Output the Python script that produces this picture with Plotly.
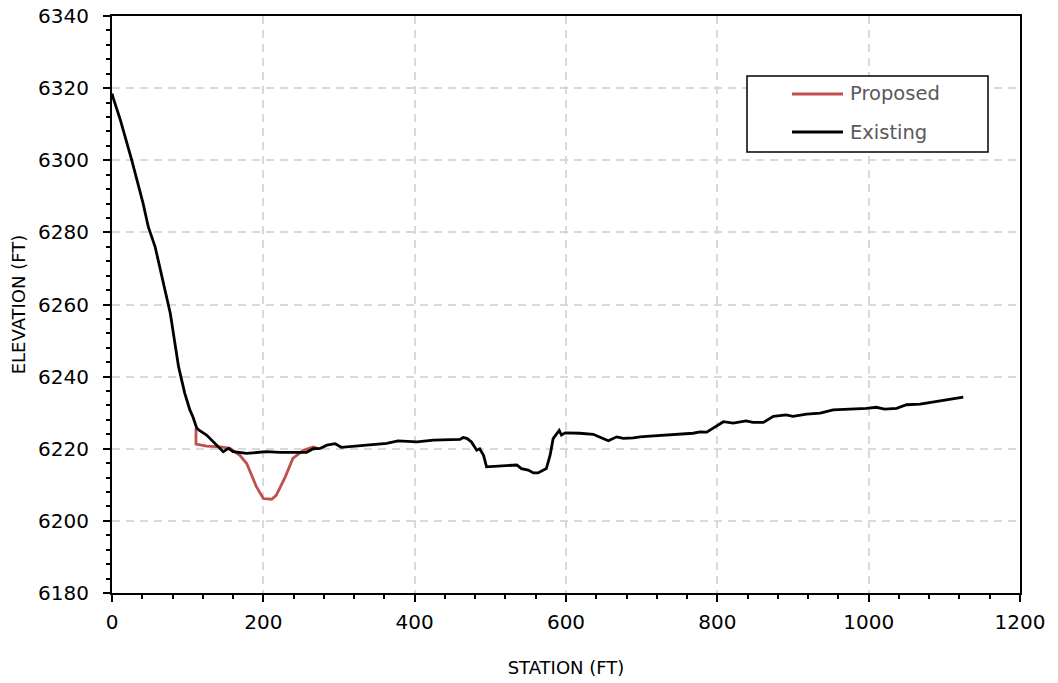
import plotly.graph_objects as go

# ---- data ----
existing_station = [0, 2, 11, 26, 41, 48, 57, 68, 77, 88, 96, 103, 107, 112, 116, 125, 136, 147, 154, 160,
                    178, 204, 222, 257, 266, 275, 284, 295, 303, 315, 328, 363, 378, 403, 425, 460, 464, 469,
                    475, 482, 486, 491, 495, 513, 535, 541, 550, 557, 563, 574, 579, 583, 591, 594, 599, 618,
                    636, 645, 656, 667, 676, 689, 698, 711, 733, 755, 768, 777, 786, 808, 821, 838, 847, 861,
                    874, 891, 900, 918, 936, 953, 980, 997, 1010, 1021, 1037, 1050, 1068, 1085, 1103, 1125]
existing_elev = [6318.5, 6317, 6311.2, 6300.1, 6288.1, 6281.5, 6276, 6266, 6257.6, 6242.7, 6235.5, 6230.7,
                 6228.8, 6225.7, 6225, 6223.8, 6221.5, 6219.2, 6220.1, 6219.2, 6218.7, 6219.2, 6219, 6219,
                 6220, 6220.1, 6221, 6221.4, 6220.4, 6220.6, 6220.8, 6221.5, 6222.2, 6221.9, 6222.4, 6222.6,
                 6223.1, 6222.9, 6221.9, 6219.6, 6220, 6218.2, 6215, 6215.2, 6215.5, 6214.5, 6214.1, 6213.3,
                 6213.3, 6214.5, 6218.2, 6222.8, 6225.1, 6223.8, 6224.4, 6224.3, 6224, 6223.2, 6222.2, 6223.3,
                 6222.9, 6223, 6223.3, 6223.5, 6223.8, 6224.3, 6224.3, 6224.7, 6224.6, 6227.5, 6227.1, 6227.7,
                 6227.3, 6227.3, 6229, 6229.4, 6229, 6229.6, 6229.9, 6230.8, 6231, 6231.2, 6231.5, 6231,
                 6231.2, 6232.2, 6232.4, 6233, 6233.7, 6234.3]

proposed_station = [111, 111, 125, 143, 156, 169, 178, 191, 200, 211, 217, 229, 239, 253, 266, 273]
proposed_elev = [6225.6, 6221.3, 6220.7, 6220.5, 6220.1, 6218.2, 6215.9, 6209.4, 6206.2, 6206, 6207.1,
                 6212.2, 6217.3, 6219.6, 6220.5, 6220]

series_names = ["Proposed", "Existing"]
x_ticks = [0, 200, 400, 600, 800, 1000, 1200]
y_ticks = [6180, 6200, 6220, 6240, 6260, 6280, 6300, 6320, 6340]

RED = "#C0504D"
FONT = "DejaVu Sans"

fig = go.Figure()
fig.add_trace(go.Scatter(x=proposed_station, y=proposed_elev, mode="lines", name=series_names[0],
                         line=dict(color=RED, width=2.8), showlegend=False))
fig.add_trace(go.Scatter(x=existing_station, y=existing_elev, mode="lines", name=series_names[1],
                         line=dict(color="black", width=2.8), showlegend=False))

# plot area in pixels: x 112..1020, y 16..593
L, R, T, B = 112, 1020, 16, 593
W, H = 1058, 683


def px(xp):
    return (xp - L) / (R - L)


def py(yp):
    return (B - yp) / (B - T)


# manual legend box
shapes = [dict(type="rect", xref="paper", yref="paper", x0=px(747), x1=px(988), y0=py(152), y1=py(76),
               line=dict(color="black", width=1.5), fillcolor="white", layer="above")]
annotations = []
for name, color, ypix in [(series_names[0], RED, 94), (series_names[1], "black", 132)]:
    shapes.append(dict(type="line", xref="paper", yref="paper", x0=px(792), x1=px(843), y0=py(ypix),
                       y1=py(ypix), line=dict(color=color, width=2.8), layer="above"))
    annotations.append(dict(xref="paper", yref="paper", x=px(848), y=py(ypix), text=name, showarrow=False,
                            xanchor="left", yanchor="middle", font=dict(family=FONT, size=19.5, color="#595959")))

axis_common = dict(
    showline=True, linecolor="black", linewidth=2, mirror=True,
    ticks="outside", ticklen=7, tickwidth=2, tickcolor="black",
    showgrid=True, gridcolor="#d9d9d9", gridwidth=1.5, griddash="8px,6px",
    zeroline=False, automargin=False,
    tickfont=dict(family=FONT, size=20, color="black"),
)

fig.update_xaxes(range=[0, 1200], tickvals=x_ticks, ticktext=[str(v) for v in x_ticks],
                 title=dict(text="STATION (FT)", font=dict(family=FONT, size=18, color="black"), standoff=28),
                 minor=dict(dtick=40, ticks="outside", ticklen=4, tickwidth=1.5, tickcolor="black",
                            showgrid=False),
                 ticklabelstandoff=3,
                 **axis_common)
fig.update_yaxes(range=[6180, 6340], tickvals=y_ticks, ticktext=[str(v) for v in y_ticks],
                 title=dict(text="ELEVATION (FT)", font=dict(family=FONT, size=18, color="black"), standoff=8),
                 minor=dict(dtick=4, ticks="outside", ticklen=4, tickwidth=1.5, tickcolor="black",
                            showgrid=False),
                 ticklabelstandoff=10,
                 **axis_common)

fig.update_layout(
    width=W, height=H,
    margin=dict(l=L, r=W - R, t=T, b=H - B),
    paper_bgcolor="white", plot_bgcolor="white",
    shapes=shapes, annotations=annotations,
    showlegend=False,
)

fig.write_html("out.html")
